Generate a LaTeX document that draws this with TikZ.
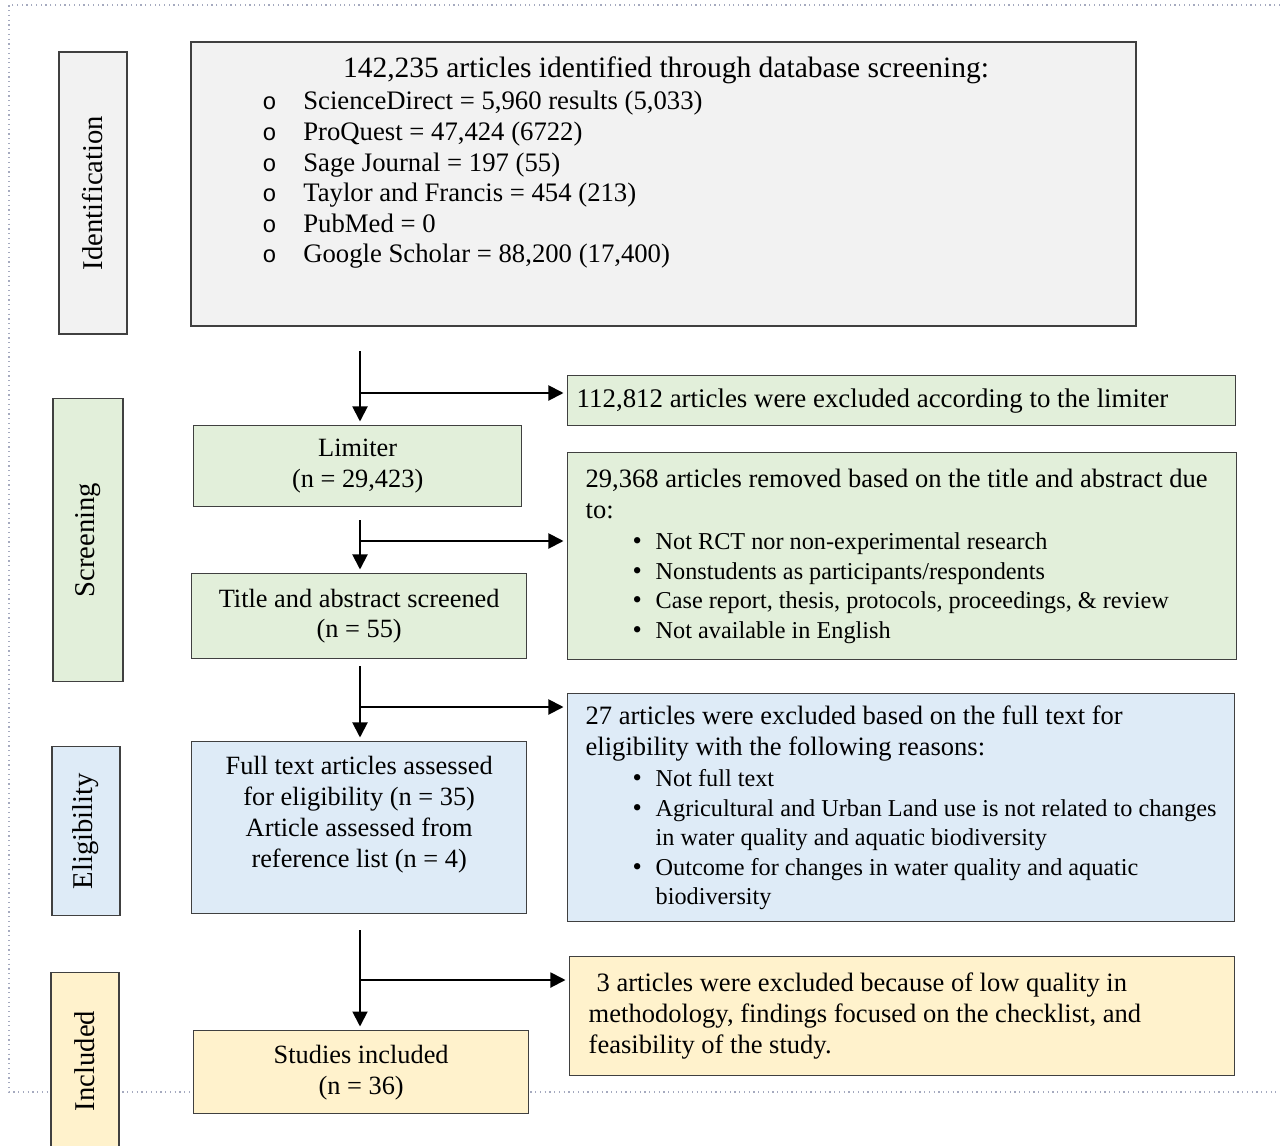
\documentclass[tikz,border=0pt]{standalone}
\usepackage{fontspec}
\setmainfont{Liberation Serif}
\newfontfamily\circfont{Liberation Mono}
\usetikzlibrary{arrows.meta,positioning,calc}

\definecolor{idfill}{HTML}{F2F2F2}
\definecolor{scrfill}{HTML}{E2EFDA}
\definecolor{eligfill}{HTML}{DEEBF7}
\definecolor{inclfill}{HTML}{FFF2CC}
\definecolor{framecol}{HTML}{404040}
\definecolor{dotcol}{HTML}{A5AABF}

\newcommand{\bul}[1]{\hspace*{0.94cm}\makebox[0.46cm][l]{\textbullet}{\fontsize{13.8}{16.8}\selectfont #1}}
\newcommand{\bulcont}[1]{\hspace*{1.4cm}{\fontsize{13.8}{16.8}\selectfont #1}}
\newcommand{\circitem}[1]{\makebox[0.82cm][l]{\circfont\fontsize{13.5}{17}\selectfont o}#1}

\tikzset{
  pbox/.style={draw=framecol, line width=0.8pt, anchor=north west, inner sep=0pt},
  sidebox/.style={draw=framecol, line width=0.8pt, rotate=90, minimum height=1.36cm,
    font=\fontsize{16.3}{19}\selectfont},
  flowbox/.style={pbox, align=center, font=\fontsize{15}{17.6}\selectfont},
  exclbox/.style={pbox, align=flush left, inner xsep=0.36cm, font=\fontsize{15.1}{16.8}\selectfont},
  arr/.style={-{Triangle[length=0.3cm,width=0.3cm]}, line width=1.1pt, shorten >=2pt},
}

\begin{document}
\begin{tikzpicture}[x=0.02cm, y=-0.02cm]
    \useasboundingbox (0,0) rectangle (1280,1145);

    % dotted frame behind everything
    \draw[dotcol, dotted, line width=0.7pt] (1280,5) -- (9,5) -- (9,1092) -- (1280,1092);

    % stage labels
    \node[sidebox, fill=idfill, minimum width=5.64cm] (idside) at (93,193) {Identification};
    \node[sidebox, fill=scrfill, minimum width=5.66cm, minimum height=1.4cm] (scrside) at (88,540) {Screening};
    \node[sidebox, fill=eligfill, minimum width=3.38cm] (eligside) at (86,831) {Eligibility};
    \node[sidebox, fill=inclfill, minimum width=3.54cm] (inclside) at (85,1061) {Included};

    % identification
    \node[pbox, fill=idfill, line width=1pt, minimum width=18.9cm, minimum height=5.68cm] (ident) at (190,41) {};
    \node[font=\fontsize{16.8}{19}\selectfont] (idtitle) at (666,70) {142,235 articles identified through database screening:};
    \node[anchor=north west, align=left, inner sep=0pt, font=\fontsize{15.2}{17.4}\selectfont] (idlist) at (262,91) {%
        \circitem{ScienceDirect = 5,960 results (5,033)}\\
        \circitem{ProQuest = 47,424 (6722)}\\
        \circitem{Sage Journal = 197 (55)}\\
        \circitem{Taylor and Francis = 454 (213)}\\
        \circitem{PubMed = 0}\\
        \circitem{Google Scholar = 88,200 (17,400)}};

    % flow boxes
    \node[flowbox, fill=scrfill, minimum width=6.56cm, minimum height=1.62cm] (limiter) at (193,425) {Limiter\\(n = 29,423)};
    \node[flowbox, fill=scrfill, minimum width=6.7cm, minimum height=1.7cm] (titleabs) at (191,573) {Title and abstract screened\\(n = 55)};
    \node[flowbox, fill=eligfill, minimum width=6.7cm, minimum height=3.44cm] (fulltext) at (191,741) {Full text articles assessed\\for eligibility (n = 35)\\Article assessed from\\reference list (n = 4)\\ \mbox{}};
    \node[flowbox, fill=inclfill, minimum width=6.7cm, minimum height=1.66cm] (studies) at (193,1030) {Studies included\\(n = 36)};

    % exclusion boxes
    \node[exclbox, fill=scrfill, inner xsep=0.18cm, text width=13cm, minimum height=1cm,
          font=\fontsize{15.3}{17.6}\selectfont] (limitexcl) at (567,375) {112,812 articles were excluded according to the limiter};
    \node[exclbox, fill=scrfill, text width=12.66cm, minimum height=4.14cm] (titleexcl) at (567,452) {%
        29,368 articles removed based on the title and abstract due\\[1pt]
        to:\\[1pt]
        \bul{Not RCT nor non-experimental research}\\
        \bul{Nonstudents as participants/respondents}\\
        \bul{Case report, thesis, protocols, proceedings, \& review}\\
        \bul{Not available in English}};
    \node[exclbox, fill=eligfill, text width=12.62cm, minimum height=4.56cm] (fullexcl) at (567,693) {%
        27 articles were excluded based on the full text for\\[1pt]
        eligibility with the following reasons:\\[1pt]
        \bul{Not full text}\\
        \bul{Agricultural and Urban Land use is not related to changes}\\
        \bulcont{in water quality and aquatic biodiversity}\\
        \bul{Outcome for changes in water quality and aquatic}\\
        \bulcont{biodiversity}};
    \node[exclbox, fill=inclfill, inner xsep=0.38cm, text width=12.54cm, minimum height=2.38cm,
          font=\fontsize{15.1}{17.6}\selectfont] (qualexcl) at (569,956) {%
        \hspace*{0.3em}3 articles were excluded because of low quality in\\
        methodology, findings focused on the checklist, and\\
        feasibility of the study.};

    % connectors
    \coordinate (s1) at (360,351);
    \coordinate (b1) at (360,393);
    \draw[arr] (s1) -- (s1 |- limiter.north);
    \draw[arr] (b1) -- (b1 -| limitexcl.west);

    \coordinate (s2) at (360,520);
    \coordinate (b2) at (360,541);
    \draw[arr] (s2) -- (s2 |- titleabs.north);
    \draw[arr] (b2) -- (b2 -| titleexcl.west);

    \coordinate (s3) at (360,666);
    \coordinate (b3) at (360,707);
    \draw[arr] (s3) -- (s3 |- fulltext.north);
    \draw[arr] (b3) -- (b3 -| fullexcl.west);

    \coordinate (s4) at (360,930);
    \coordinate (b4) at (360,980);
    \draw[arr] (s4) -- (s4 |- studies.north);
    \draw[arr] (b4) -- (b4 -| qualexcl.west);
\end{tikzpicture}
\end{document}
